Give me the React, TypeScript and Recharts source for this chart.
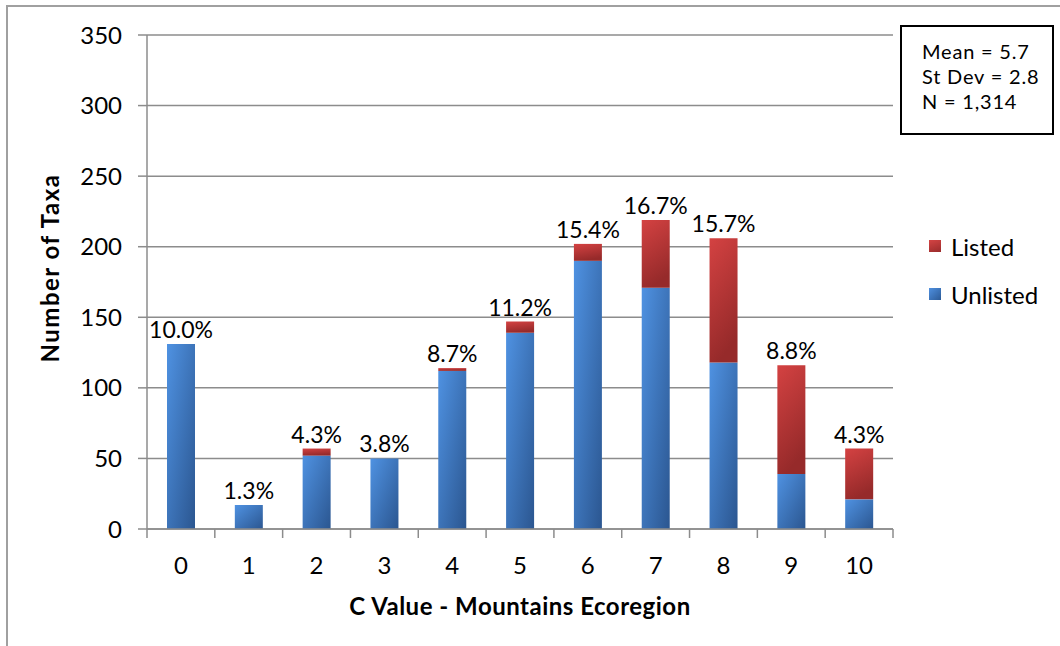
import { Bar, BarChart, CartesianGrid, LabelList, XAxis, YAxis } from "recharts"

const cValues = ["0", "1", "2", "3", "4", "5", "6", "7", "8", "9", "10"]
const unlisted = [131, 17, 52, 50, 112, 139, 190, 171, 118, 39, 21]
const listed = [0, 0, 5, 0, 2, 8, 12, 48, 88, 77, 36]
const pctLabels = ["10.0%", "1.3%", "4.3%", "3.8%", "8.7%", "11.2%", "15.4%", "16.7%", "15.7%", "8.8%", "4.3%"]
const yTicks = [0, 50, 100, 150, 200, 250, 300, 350]
const statLines = ["Mean = 5.7", "St Dev = 2.8", "N = 1,314"]
const legendItems = [
  { name: "Listed", swatch: "linear-gradient(160deg, #d44444, #9a2c2c)" },
  { name: "Unlisted", swatch: "linear-gradient(135deg, #4f90e0, #2c5a96)" },
]

const data = cValues.map((c, i) => ({
  c,
  unlisted: unlisted[i],
  listed: listed[i],
  pct: pctLabels[i],
}))

const FONT = "Lato, 'Open Sans', sans-serif"
const GRID = "#8c8c8c"
const W = 1060
const H = 646
const margin = { top: 35, right: 167, bottom: 0, left: 7 }
const plotWidth = W - margin.left - margin.right - 140
const band = plotWidth / cValues.length

function XTick(props: any) {
  const { x, y, payload, index } = props
  return (
    <g>
      <line x1={x - band / 2} x2={x - band / 2} y1={y} y2={y + 9} stroke={GRID} strokeWidth={1.5} />
      {index === cValues.length - 1 && (
        <line x1={x + band / 2} x2={x + band / 2} y1={y} y2={y + 9} stroke={GRID} strokeWidth={1.5} />
      )}
      <text x={x} y={y + 35} textAnchor="middle" dominantBaseline="central" fontSize={24} fontFamily={FONT} fill="#000">
        {payload.value}
      </text>
    </g>
  )
}

// label sits above the whole stack: scale the unlisted bar height to find the stack top
function PctLabel(props: any) {
  const { x, y, width, height, index } = props
  const perUnit = unlisted[index] ? height / unlisted[index] : 0
  const top = y - listed[index] * perUnit
  return (
    <text x={x + width / 2} y={top - 6} textAnchor="middle" fontSize={23} fontFamily={FONT} fill="#000">
      {pctLabels[index]}
    </text>
  )
}

export default function App() {
  return (
    <div style={{ position: "absolute", left: 0, top: 0, width: W, height: H, background: "#fff", overflow: "hidden" }}>
      <div
        style={{
          position: "absolute",
          left: 6,
          top: 5,
          width: W,
          height: H,
          borderLeft: "2px solid #a0a0a0",
          borderTop: "2px solid #a0a0a0",
        }}
      />
      <BarChart width={W} height={H} data={data} margin={margin} barSize={28} style={{ position: "absolute", left: 0, top: 0 }}>
        <defs>
          <linearGradient id="gBlue" x1="0" y1="0" x2="1" y2="1">
            <stop offset="0%" stopColor="#4f92e2" />
            <stop offset="100%" stopColor="#2b5690" />
          </linearGradient>
          <linearGradient id="gRed" x1="0" y1="0" x2="0.3" y2="1">
            <stop offset="0%" stopColor="#d44242" />
            <stop offset="100%" stopColor="#962a2a" />
          </linearGradient>
        </defs>
        <CartesianGrid vertical={false} stroke={GRID} strokeWidth={1.5} />
        <XAxis
          dataKey="c"
          height={117}
          tickSize={0}
          tickMargin={0}
          tickLine={false}
          axisLine={{ stroke: GRID, strokeWidth: 1.5 }}
          tick={<XTick />}
          interval={0}
          label={{
            content: (p: any) => {
              const vb = p.viewBox
              return (
                <text
                  x={vb.x + vb.width / 2}
                  y={vb.y + 76}
                  textAnchor="middle"
                  dominantBaseline="central"
                  fontSize={24}
                  letterSpacing={0.5}
                  fontWeight="bold"
                  fontFamily={FONT}
                  fill="#000"
                >
                  C Value - Mountains Ecoregion
                </text>
              )
            },
          }}
        />
        <YAxis
          width={140}
          domain={[0, 350]}
          ticks={yTicks}
          tickSize={9}
          tickMargin={16}
          axisLine={{ stroke: GRID, strokeWidth: 1.5 }}
          tickLine={{ stroke: GRID, strokeWidth: 1.5 }}
          tick={{ fontSize: 24, fontFamily: FONT, fill: "#000" }}
          label={{
            content: (p: any) => {
              const vb = p.viewBox
              const cx = vb.x + 42
              const cy = vb.y + vb.height / 2 - 14
              return (
                <text
                  x={cx}
                  y={cy}
                  transform={`rotate(-90, ${cx}, ${cy})`}
                  textAnchor="middle"
                  dominantBaseline="central"
                  fontSize={24}
                  letterSpacing={1.5}
                  fontWeight="bold"
                  fontFamily={FONT}
                  fill="#000"
                >
                  Number of Taxa
                </text>
              )
            },
          }}
        />
        <Bar dataKey="unlisted" name="Unlisted" stackId="a" fill="url(#gBlue)" isAnimationActive={false}>
          <LabelList dataKey="pct" content={<PctLabel />} />
        </Bar>
        <Bar dataKey="listed" name="Listed" stackId="a" fill="url(#gRed)" isAnimationActive={false} />
      </BarChart>
      <div style={{ position: "absolute", left: 929, top: 222, fontFamily: FONT, fontSize: 24, color: "#000" }}>
        {legendItems.map((it) => (
          <div key={it.name} style={{ display: "flex", alignItems: "center", height: 48 }}>
            <div style={{ width: 12, height: 12, marginRight: 10, background: it.swatch }} />
            <span>{it.name}</span>
          </div>
        ))}
      </div>
      <div
        style={{
          position: "absolute",
          left: 900,
          top: 25,
          width: 154,
          height: 110,
          border: "2px solid #000",
          fontFamily: FONT,
          fontSize: 20,
          letterSpacing: 0.8,
          lineHeight: "25px",
          color: "#000",
          paddingLeft: 20,
          paddingTop: 12,
          boxSizing: "border-box",
        }}
      >
        {statLines.map((s) => (
          <div key={s}>{s}</div>
        ))}
      </div>
    </div>
  )
}
